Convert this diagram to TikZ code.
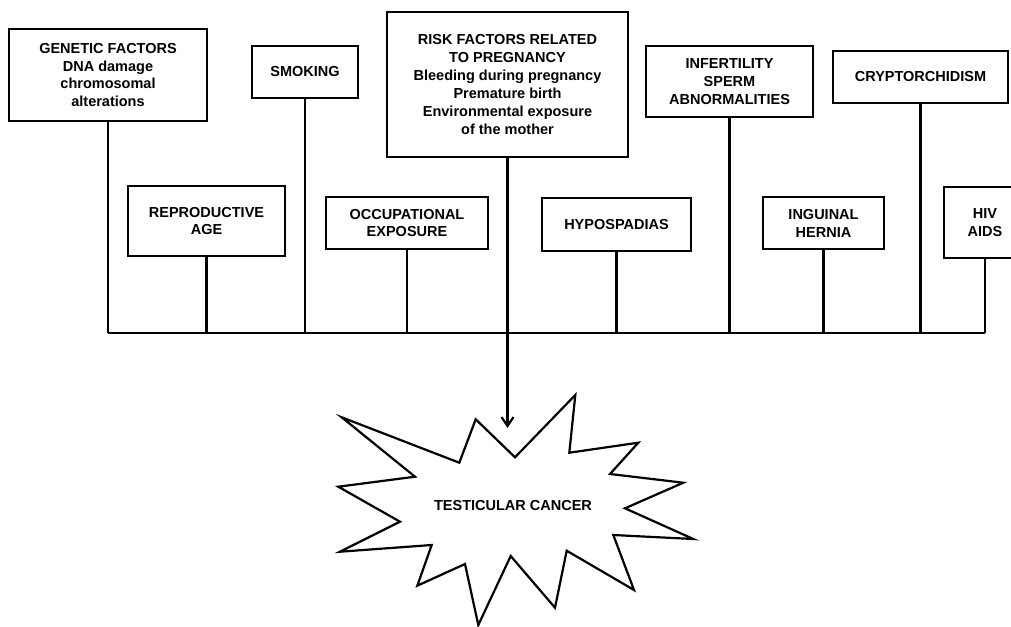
\documentclass[tikz,border=0pt]{standalone}
\usepackage{fontspec}
\setmainfont{Liberation Sans}
\usetikzlibrary{arrows.meta}

\tikzset{
  factor/.style = {draw, line width=2.4pt, align=center, inner sep=0pt,
                   font=\bfseries\fontsize{14.5}{17.9}\selectfont},
  stem/.style   = {line width=2.5pt},
}

\begin{document}
\begin{tikzpicture}[x=1pt, y=-1pt]
        % Frame of the picture
        \useasboundingbox (0,0) rectangle (1011,626);
        \clip (0,0) rectangle (1011,626);

        % Upper row of factors
        \node[factor, minimum width=198, minimum height=92] (gen) at (108,75)
              {GENETIC FACTORS\\DNA damage\\chromosomal\\alterations};
        \node[factor, minimum width=106, minimum height=52] (smoke) at (305,72) {SMOKING};
        \node[factor, minimum width=241, minimum height=145] (preg) at (507.5,84.5)
              {RISK FACTORS RELATED\\TO PREGNANCY\\Bleeding during pregnancy\\Premature birth\\Environmental exposure\\of the mother};
        \node[factor, minimum width=167, minimum height=71] (infert) at (729.5,81.5)
              {INFERTILITY\\SPERM\\ABNORMALITIES};
        \node[factor, minimum width=175, minimum height=52] (crypt) at (920.5,77) {CRYPTORCHIDISM};

        % Lower row of factors
        \node[factor, minimum width=157, minimum height=70] (repro) at (206.5,221) {REPRODUCTIVE\\AGE};
        \node[factor, minimum width=162, minimum height=52] (occup) at (407,223) {OCCUPATIONAL\\EXPOSURE};
        \node[factor, minimum width=149, minimum height=53] (hypo) at (616.5,224.5) {HYPOSPADIAS};
        \node[factor, minimum width=121, minimum height=52] (hernia) at (823.5,223) {INGUINAL\\HERNIA};
        \node[factor, minimum width=82, minimum height=71] (hiv) at (985,222.5) {HIV\\AIDS};

        % Common line joining all factors
        \coordinate (busL) at (108,333);
        \coordinate (busR) at (985,333);
        \draw[stem] (busL) -- (busR);

        % Stems from each box down to the common line
        \foreach \f in {gen, smoke, infert, crypt, repro, occup, hypo, hernia, hiv}
            \draw[stem] (\f.south) -- (\f.south |- busL);

        % Starburst outline
        \draw[line width=2.2pt, line join=miter] (341.7,417.3) -- (459.3,462.7) -- (475.7,419.3)
              -- (515,457.3) -- (575.3,395) -- (569.3,452.7) -- (638.3,442.7)
              -- (610,474) -- (683.3,482.7) -- (625,508.3) -- (693.3,539)
              -- (613.3,535) -- (634,590) -- (566.7,550.7) -- (555,607.7)
              -- (510.7,556) -- (478.3,625) -- (465,564) -- (417.3,585.7)
              -- (431.7,545) -- (340,551.7) -- (400,521.7) -- (338.3,486.7)
              -- (415,476.7) -- cycle;
        \node[font=\bfseries\fontsize{14.5}{17}\selectfont] (cancer) at (513,505.7) {TESTICULAR CANCER};

        % Arrow into the burst
        \coordinate (tip) at (507.5,428);
        \draw[stem, -{Straight Barb[length=9pt, width=12pt, line width=2.2pt]}] (preg.south) -- (tip);
\end{tikzpicture}
\end{document}
